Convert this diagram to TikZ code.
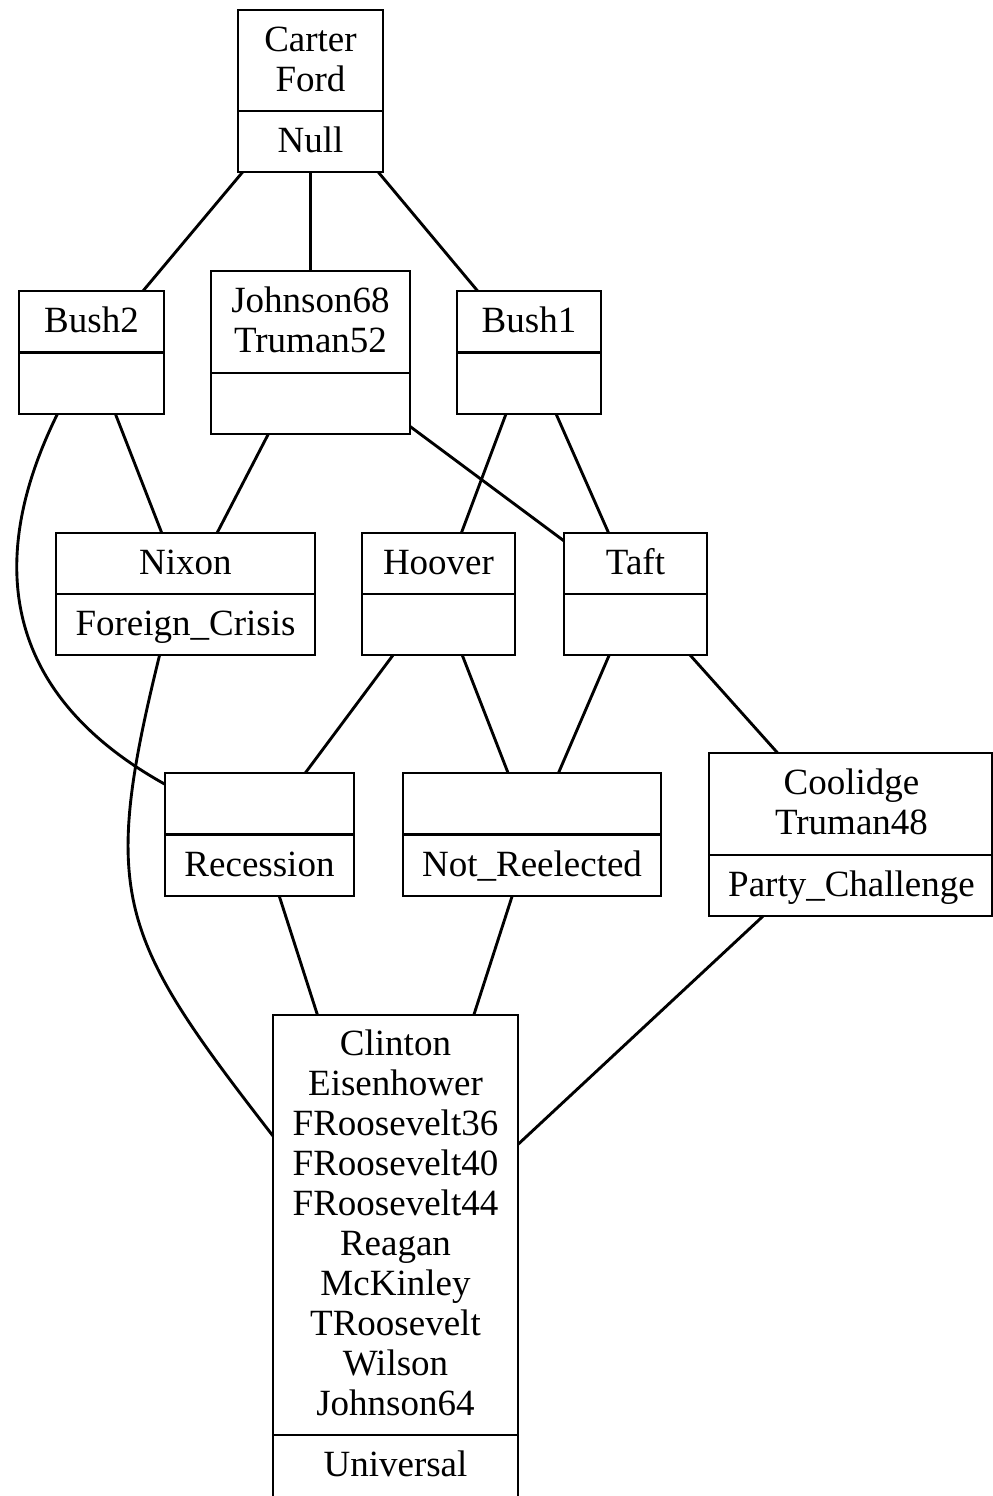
\documentclass[tikz,border=0pt]{standalone}
\usepackage{fontspec}
\setmainfont{Liberation Serif}

% record box: name, left, top, right, bottom, y of the divider (all in px units)
\newcommand\recbox[6]{%
  \node[rec, minimum width={(#4-#2)*0.4pt}, minimum height={(#5-#3)*0.4pt}]
    (#1) at ({(#2+#4)/2},{(#3+#5)/2}) {};
  \draw[edge] (#1.west |- 0,#6) -- (#1.east |- 0,#6);%
}

\begin{document}
\begin{tikzpicture}[x=0.4pt, y=-0.4pt,
  font=\fontsize{14.8pt}{16pt}\selectfont,
  rec/.style={draw, rectangle, line width=1.15pt, inner sep=0pt, outer sep=0pt},
  % anchor=base sits on the baseline of the last line
  lbl/.style={inner sep=0pt, anchor=base, align=center},
  edge/.style={line width=1.15pt}]
\useasboundingbox (0,0) rectangle (993,1496);

% ---- boxes ----
\recbox{cf}{238}{10}{383}{172}{111}
\recbox{bush2}{19}{291}{164}{414}{352.5}
\recbox{john}{211}{271}{410}{434}{373}
\recbox{bush1}{457}{291}{601}{414}{352.5}
\recbox{nixon}{56}{533}{315}{655}{594}
\recbox{hoover}{362}{533}{515}{655}{594}
\recbox{taft}{564}{533}{707}{655}{594}
\recbox{rec}{165}{773}{354}{896}{834.5}
\recbox{notre}{403}{773}{661}{896}{834.5}
\recbox{cool}{709}{753}{992}{916}{855}
\recbox{univ}{273}{1015}{518}{1502}{1435}

% ---- labels ----
\node[lbl] (cf-t) at (310.5,91) {Carter\\Ford};
\node[lbl] (cf-b) at (310.5,152) {Null};
\node[lbl] (bush2-t) at (91.5,332) {Bush2};
\node[lbl] (john-t) at (310.5,352.5) {Johnson68\\Truman52};
\node[lbl] (bush1-t) at (529,332) {Bush1};
\node[lbl] (nixon-t) at (185.5,574) {Nixon};
\node[lbl] (nixon-b) at (185.5,635) {Foreign\_Crisis};
\node[lbl] (hoover-t) at (438.5,574) {Hoover};
\node[lbl] (taft-t) at (635.5,574) {Taft};
\node[lbl] (rec-b) at (259.5,876) {Recession};
\node[lbl] (notre-b) at (532,876) {Not\_Reelected};
\node[lbl] (cool-t) at (851.5,834.5) {Coolidge\\Truman48};
\node[lbl] (cool-b) at (851.5,896) {Party\_Challenge};
\node[lbl] (univ-t) at (395.5,1415.5) {Clinton\\Eisenhower\\FRoosevelt36\\FRoosevelt40\\FRoosevelt44\\Reagan\\McKinley\\TRoosevelt\\Wilson\\Johnson64};
\node[lbl] (univ-b) at (395.5,1476) {Universal};

% ---- connectors ----
\draw[edge] (cf) -- (bush2);
\draw[edge] (cf) -- (john);
\draw[edge] (cf) -- (bush1);
\draw[edge] (bush2) -- (nixon);
\draw[edge] (bush2.241) .. controls (-18,567) and (8,697) .. (rec.152);
\draw[edge] (john) -- (nixon);
\draw[edge] (john) -- (taft);
\draw[edge] (bush1) -- (hoover);
\draw[edge] (bush1) -- (taft);
\draw[edge] (nixon.247) .. controls (100,897) and (118,936) .. (univ.135);
\draw[edge] (hoover) -- (rec);
\draw[edge] (hoover) -- (notre);
\draw[edge] (taft) -- (notre);
\draw[edge] (taft) -- (cool);
\draw[edge] (rec) -- (univ);
\draw[edge] (notre) -- (univ);
\draw[edge] (cool) -- (univ);
\end{tikzpicture}
\end{document}
